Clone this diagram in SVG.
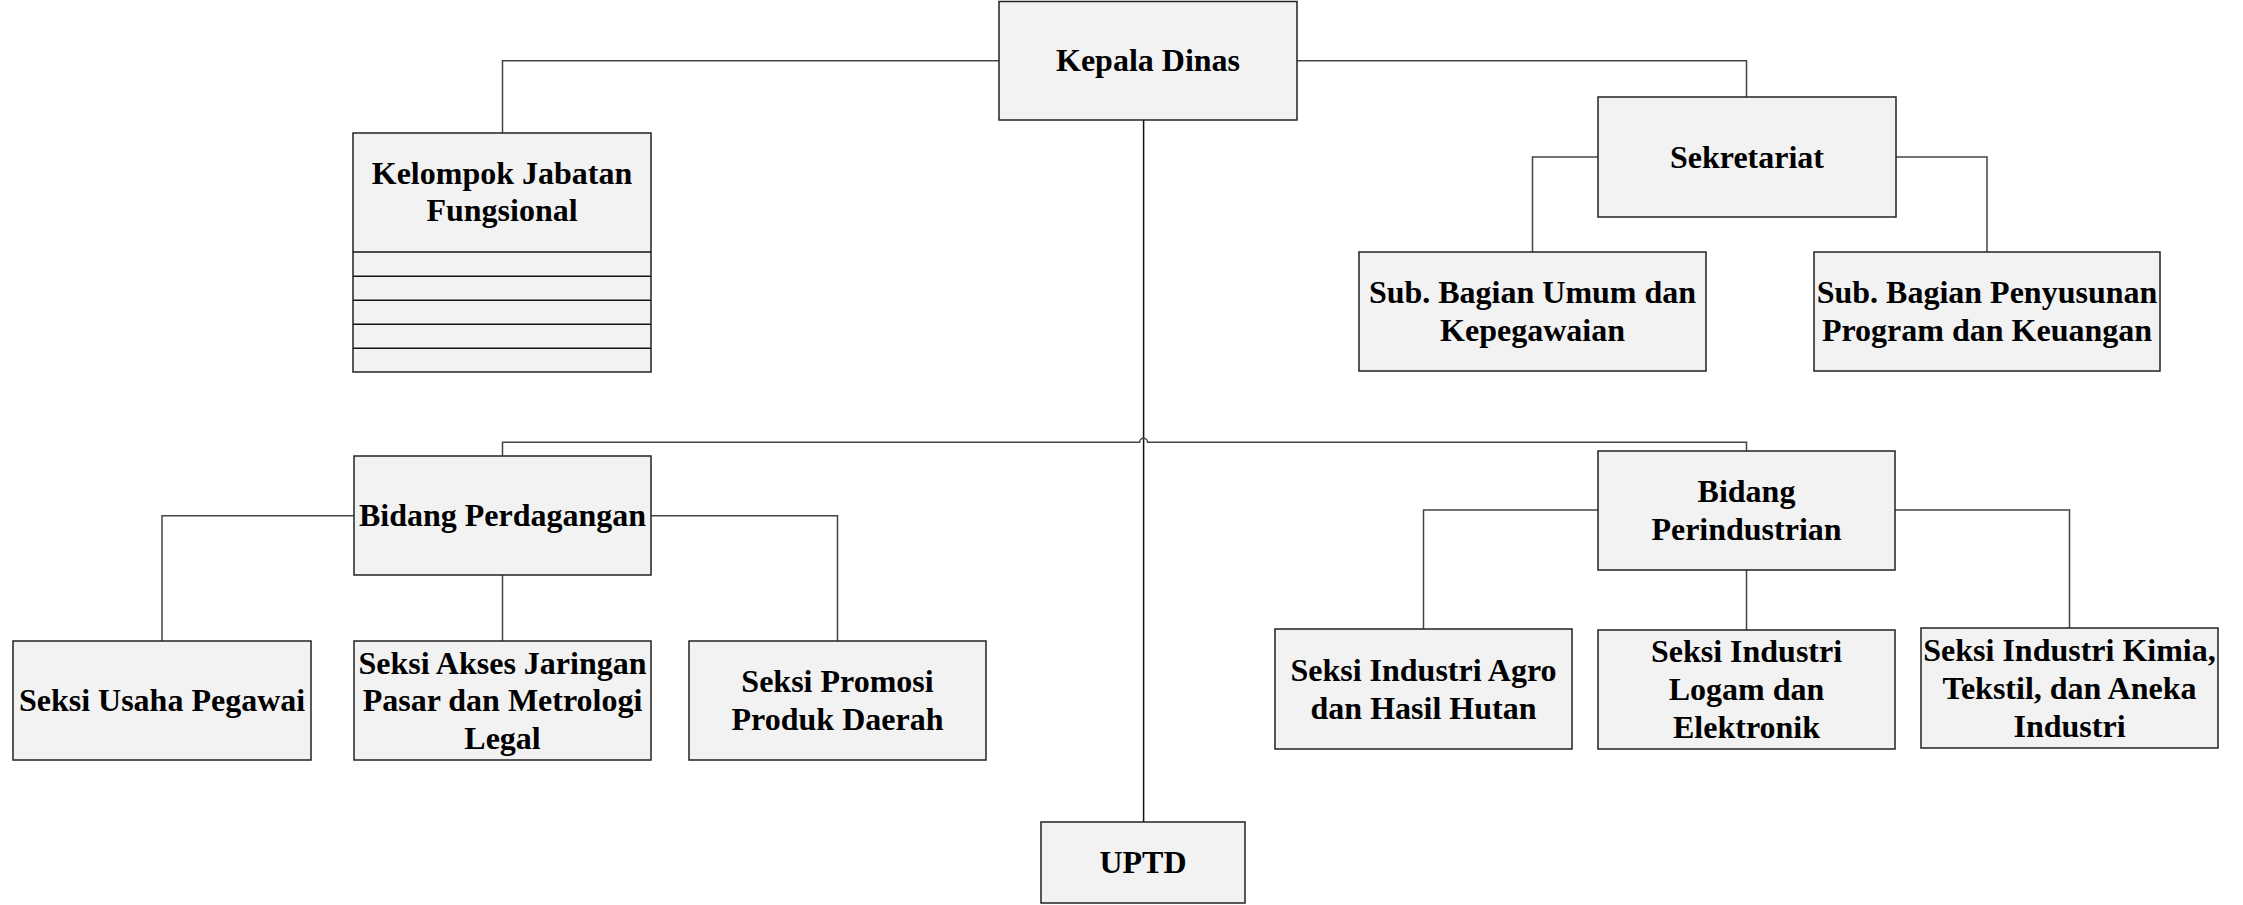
<svg xmlns="http://www.w3.org/2000/svg" width="2243" height="905" viewBox="0 0 2243 905">
<style>
.box{fill:#f2f2f2;stroke:#222;stroke-width:1.5}
.div{stroke:#111;stroke-width:1.5}
.t{font-family:"Liberation Serif","Times New Roman",serif;font-weight:bold;font-size:32px;fill:#000;text-anchor:middle}
.c{fill:none;stroke:#444;stroke-width:1.5}
</style>
<rect width="2243" height="905" fill="#fff"/>
<g id="connectors">
<path class="c" d="M999,60.7 H502.5 V133"/>
<path class="c" d="M1297,60.7 H1746.5 V97"/>
<path class="c" d="M1143.6,120 V822" style="stroke:#111"/>
<path class="c" d="M1598,157 H1532.5 V252"/>
<path class="c" d="M1896,157 H1987 V252"/>
<path class="c" d="M502.5,456 V442.3 H1139.6 A4,4 0 0 1 1147.6,442.3 H1746.5 V451"/>
<path class="c" d="M354,515.7 H162 V641"/>
<path class="c" d="M651,515.7 H837.5 V641"/>
<path class="c" d="M502.5,575 V641"/>
<path class="c" d="M1598,510 H1423.5 V629"/>
<path class="c" d="M1895,510 H2069.5 V628"/>
<path class="c" d="M1746.5,570 V630"/>
</g>
<g id="kepala-dinas">
<rect class="box" x="999" y="1.5" width="298" height="118.5"/>
<text class="t" x="1148" y="71.3">Kepala Dinas</text>
</g>
<g id="kelompok-jabatan">
<rect class="box" x="353" y="133" width="298" height="239"/>
<line class="div" x1="353" y1="252" x2="651" y2="252"/>
<line class="div" x1="353" y1="276.3" x2="651" y2="276.3"/>
<line class="div" x1="353" y1="300.3" x2="651" y2="300.3"/>
<line class="div" x1="353" y1="324.3" x2="651" y2="324.3"/>
<line class="div" x1="353" y1="348.3" x2="651" y2="348.3"/>
<text class="t" x="502" y="183.6">Kelompok Jabatan</text>
<text class="t" x="502" y="221.4">Fungsional</text>
</g>
<g id="sekretariat">
<rect class="box" x="1598" y="97" width="298" height="120"/>
<text class="t" x="1747" y="167.6">Sekretariat</text>
</g>
<g id="sub-umum">
<rect class="box" x="1359" y="252" width="347" height="119"/>
<text class="t" x="1532.5" y="302.6">Sub. Bagian Umum dan</text>
<text class="t" x="1532.5" y="340.6">Kepegawaian</text>
</g>
<g id="sub-penyusunan">
<rect class="box" x="1814" y="252" width="346" height="119"/>
<text class="t" x="1987" y="302.6">Sub. Bagian Penyusunan</text>
<text class="t" x="1987" y="340.6">Program dan Keuangan</text>
</g>
<g id="bidang-perdagangan">
<rect class="box" x="354" y="456" width="297" height="119"/>
<text class="t" x="502.5" y="526.1">Bidang Perdagangan</text>
</g>
<g id="seksi-usaha">
<rect class="box" x="13" y="641" width="298" height="119"/>
<text class="t" x="162" y="711.1">Seksi Usaha Pegawai</text>
</g>
<g id="seksi-akses">
<rect class="box" x="354" y="641" width="297" height="119"/>
<text class="t" x="502.5" y="673.6">Seksi Akses Jaringan</text>
<text class="t" x="502.5" y="711.1">Pasar dan Metrologi</text>
<text class="t" x="502.5" y="748.6">Legal</text>
</g>
<g id="seksi-promosi">
<rect class="box" x="689" y="641" width="297" height="119"/>
<text class="t" x="837.5" y="692.1">Seksi Promosi</text>
<text class="t" x="837.5" y="730.1">Produk Daerah</text>
</g>
<g id="bidang-perindustrian">
<rect class="box" x="1598" y="451" width="297" height="119"/>
<text class="t" x="1746.5" y="502.3">Bidang</text>
<text class="t" x="1746.5" y="539.8">Perindustrian</text>
</g>
<g id="seksi-agro">
<rect class="box" x="1275" y="629" width="297" height="120"/>
<text class="t" x="1423.5" y="680.6">Seksi Industri Agro</text>
<text class="t" x="1423.5" y="718.6">dan Hasil Hutan</text>
</g>
<g id="seksi-logam">
<rect class="box" x="1598" y="630" width="297" height="119"/>
<text class="t" x="1746.5" y="662.1">Seksi Industri</text>
<text class="t" x="1746.5" y="700.1">Logam dan</text>
<text class="t" x="1746.5" y="738.1">Elektronik</text>
</g>
<g id="seksi-kimia">
<rect class="box" x="1921" y="628" width="297" height="120"/>
<text class="t" x="2069.5" y="660.6">Seksi Industri Kimia,</text>
<text class="t" x="2069.5" y="698.6">Tekstil, dan Aneka</text>
<text class="t" x="2069.5" y="736.6">Industri</text>
</g>
<g id="uptd">
<rect class="box" x="1041" y="822" width="204" height="81"/>
<text class="t" x="1143" y="873.1">UPTD</text>
</g>
</svg>
